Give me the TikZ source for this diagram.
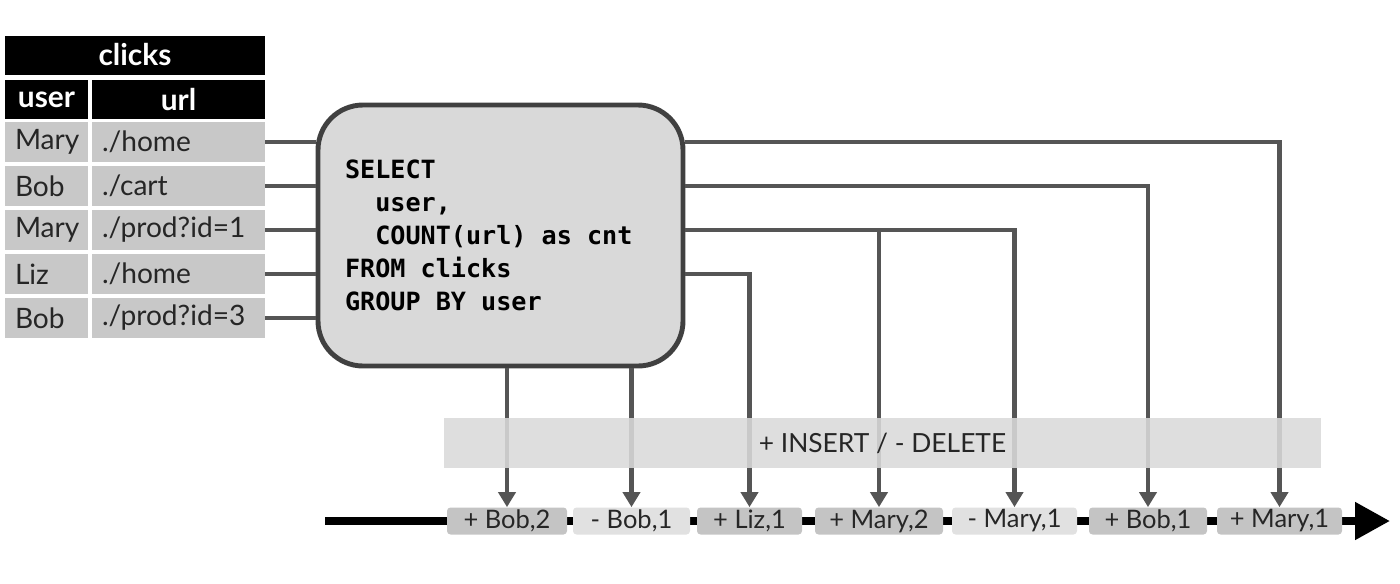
\documentclass[tikz,border=0pt]{standalone}
\usepackage{fontspec}
\setmainfont{Lato}
\setmonofont{DejaVu Sans Mono}
\usepackage{tikz}
\usetikzlibrary{arrows.meta, positioning, calc}
\usepackage{xcolor}
\definecolor{wiregray}{RGB}{85,85,85}
\definecolor{cellgray}{RGB}{200,200,200}
\definecolor{qfill}{RGB}{217,217,217}
\definecolor{qedge}{RGB}{64,64,64}
\definecolor{insfill}{RGB}{196,196,196}
\definecolor{delfill}{RGB}{225,225,225}
\definecolor{bandfill}{RGB}{218,218,218}
\newcommand{\qsp}{\hphantom{x}}

\begin{document}
\begin{tikzpicture}[every node/.style={font=\fontsize{15}{18}\selectfont, text=black!85},
   hd/.style={fill=black, text=white, font=\fontsize{17}{20}\selectfont\bfseries,
              minimum height=0.78cm, inner sep=0pt},
   ucell/.style={fill=cellgray, minimum height=0.8cm, text width=1.26cm,
                 inner xsep=0.2cm, inner ysep=0pt, align=left,
                 font=\fontsize{16}{19}\selectfont},
   lcell/.style={ucell, text width=3.06cm},
   qry/.style={draw=qedge, line width=2.8pt, fill=qfill, rounded corners=0.9cm,
               minimum height=5.22cm, text width=6.22cm, inner xsep=0.54cm,
               align=left, text=black,
               font=\ttfamily\bfseries\fontsize{14.3}{18.8}\selectfont},
   ev/.style={rounded corners=2pt, minimum height=0.54cm, inner sep=0pt,
              font=\fontsize{14.5}{17}\selectfont},
   plus/.style={ev, fill=insfill},
   minus/.style={ev, fill=delfill},
   link/.style={draw=wiregray, line width=2.3pt},
   arr/.style={link, -{Triangle[length=0.3cm, width=0.34cm]}}]

  \useasboundingbox (0,0) rectangle (28,-11.66);

  % input table
  \node[hd, minimum width=5.2cm] (tab) at (2.7,-1.1) {clicks};
  \node[hd, minimum width=1.66cm] (hu) at (0.93,-1.99) {user};
  \node[hd, minimum width=3.46cm] (hl) at (3.57,-1.99) {url};
  \node[ucell] (u1) at (0.93,-2.84) {Mary};
  \node[lcell] (l1) at (3.57,-2.84) {./home};
  \node[ucell] (u2) at (0.93,-3.72) {Bob};
  \node[lcell] (l2) at (3.57,-3.72) {./cart};
  \node[ucell] (u3) at (0.93,-4.60) {Mary};
  \node[lcell] (l3) at (3.57,-4.60) {./prod?id=1};
  \node[ucell] (u4) at (0.93,-5.48) {Liz};
  \node[lcell] (l4) at (3.57,-5.48) {./home};
  \node[ucell] (u5) at (0.93,-6.36) {Bob};
  \node[lcell] (l5) at (3.57,-6.36) {./prod?id=3};

  % continuous query
  \node[qry] (q) at (10.01,-4.71)
       {SELECT\\ \qsp\qsp user,\\ \qsp\qsp COUNT(url)\qsp as\qsp cnt\\
        FROM\qsp clicks\\ GROUP\qsp BY\qsp user};

  \draw[link] (l1.east) -- (q.west |- l1);
  \draw[link] (l2.east) -- (q.west |- l2);
  \draw[link] (l3.east) -- (q.west |- l3);
  \draw[link] (l4.east) -- (q.west |- l4);
  \draw[link] (l5.east) -- (q.west |- l5);

  % changelog stream
  \coordinate (t0) at (6.5,-10.42);
  \coordinate (t1) at (27.8,-10.42);
  \draw[line width=4.5pt, -{Triangle[length=0.7cm, width=0.72cm]}] (t0) -- (t1);

  \node[plus, minimum width=2.4cm] (e1) at (10.14,-10.42) {+ Bob,2};
  \node[minus, minimum width=2.34cm] (e2) at (12.63,-10.42) {- Bob,1};
  \node[plus, minimum width=2.1cm] (e3) at (14.99,-10.42) {+ Liz,1};
  \node[plus, minimum width=2.56cm] (e4) at (17.58,-10.42) {+ Mary,2};
  \node[minus, minimum width=2.5cm] (e5) at (20.29,-10.42) {- Mary,1};
  \node[plus, minimum width=2.36cm] (e6) at (22.96,-10.42) {+ Bob,1};
  \node[plus, minimum width=2.5cm] (e7) at (25.59,-10.42) {+ Mary,1};

  % query results
  \draw[arr] (q.south -| e1.north) -- (e1.north);
  \draw[arr] (q.south -| e2.north) -- (e2.north);
  \draw[arr] (q.east |- l4) -| (e3.north);
  \draw[arr] (q.east |- l3) -| (e5.north);
  \draw[arr] (e4.north |- l3) -- (e4.north);
  \draw[arr] (q.east |- l2) -| (e6.north);
  \draw[arr] (q.east |- l1) -| (e7.north);

  % overlay band
  \node[fill=bandfill, fill opacity=0.88, text opacity=1, minimum width=17.54cm,
        minimum height=1.0cm, inner sep=0pt] (band) at (17.65,-8.86)
       {+ INSERT / - DELETE};
\end{tikzpicture}
\end{document}
